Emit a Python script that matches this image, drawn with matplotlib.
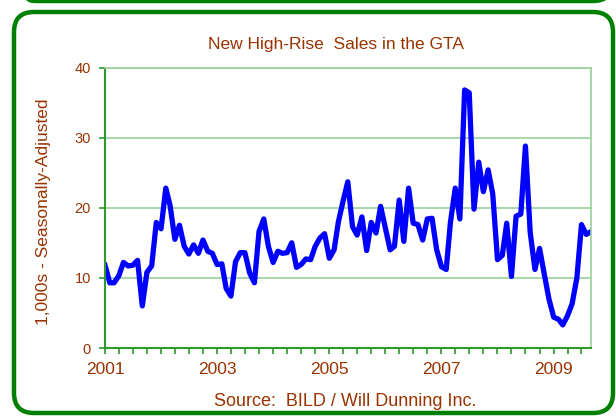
import numpy as np
import pandas as pd
import matplotlib
matplotlib.use('Agg')
import matplotlib.pyplot as plt
import matplotlib.dates as mdates
from matplotlib.patches import FancyBboxPatch
from matplotlib.transforms import IdentityTransform

# Dane: miesięczna sprzedaż (tys., wyrównana sezonowo), od 01.2001
months = pd.date_range('2001-01-01', periods=105, freq='MS')
sales = [
    11.8, 9.3, 9.3, 10.3, 12.2, 11.7, 11.8, 12.5, 6.0, 10.8, 11.7, 17.9,
    17.0, 22.8, 20.3, 15.5, 17.5, 14.5, 13.4, 14.7, 13.5, 15.4, 13.8, 13.5,
    11.9, 12.0, 8.5, 7.4, 12.3, 13.6, 13.6, 10.7, 9.3, 16.6, 18.4, 14.5,
    12.2, 13.8, 13.5, 13.6, 15.0, 11.5, 11.9, 12.7, 12.6, 14.5, 15.7, 16.3,
    12.8, 14.0, 18.0, 21.0, 23.7, 17.3, 16.1, 18.7, 13.9, 17.9, 16.4, 20.2,
    17.1, 14.0, 14.5, 21.1, 15.2, 22.8, 17.8, 17.6, 15.4, 18.4, 18.5, 14.0,
    11.6, 11.2, 18.0, 22.8, 18.4, 36.8, 36.4, 19.8, 26.5, 22.3, 25.4, 22.0,
    12.6, 13.2, 17.8, 10.2, 18.8, 19.1, 28.8, 16.5, 11.2, 14.2, 10.5, 7.0,
    4.4, 4.1, 3.3, 4.6, 6.3, 10.0, 17.6, 16.2, 16.6,
]
year_labels = ['2001', '2003', '2005', '2007', '2009']

TXT = '#993300'
GRID = '#99d199'
AXG = '#2e9a2e'
FRAME = '#008000'
FONT = 'Liberation Sans'

fig = plt.figure(figsize=(6.16, 4.17), dpi=100)
fig.patch.set_facecolor('white')

# ramki (zaokrąglone, zielone)
W, H = 616, 417
fig.patches.append(FancyBboxPatch((14, 4), 599, 401, boxstyle='round,pad=0,rounding_size=20',
                                  transform=IdentityTransform(), fill=False,
                                  edgecolor=FRAME, linewidth=3.2, figure=fig))
fig.patches.append(FancyBboxPatch((14, 416), 599, 100, boxstyle='round,pad=0,rounding_size=20',
                                  transform=IdentityTransform(), fill=False,
                                  edgecolor=FRAME, linewidth=3.2, figure=fig))

ax = fig.add_axes([105 / W, 69 / H, 486 / W, 280.5 / H])
ax.plot(months, sales, color='#0000ff', linewidth=3.8, solid_joinstyle='round')

ax.set_ylim(0, 40)
ax.set_xlim(months[0], months[-1])
ax.set_yticks([0, 10, 20, 30, 40])
ax.yaxis.grid(True, color=GRID, linewidth=1.2)
ax.set_axisbelow(True)

year_pos = [mdates.date2num(pd.Timestamp(y + '-01-01')) for y in year_labels]
ax.set_xticks(year_pos)
ax.set_xticklabels(year_labels)
ax.xaxis.set_minor_locator(mdates.MonthLocator(bymonth=[1, 4, 7, 10]))
ax.tick_params(axis='x', which='both', direction='out', length=4, width=1.2,
               color=AXG, labelsize=12.5, labelcolor=TXT, pad=6)
ax.tick_params(axis='y', direction='out', length=4, width=1.2, color=AXG,
               labelsize=10.5, labelcolor=TXT, pad=6)
for lbl in ax.get_xticklabels() + ax.get_yticklabels():
    lbl.set_family(FONT)

for side in ['top', 'right']:
    ax.spines[side].set_color(GRID)
    ax.spines[side].set_linewidth(1.2)
for side in ['left', 'bottom']:
    ax.spines[side].set_color(AXG)
    ax.spines[side].set_linewidth(1.5)

fig.text(336 / W, 1 - 44 / H, 'New High-Rise  Sales in the GTA', ha='center', va='center',
         color=TXT, fontsize=12.5, family=FONT)
fig.text(44 / W, 1 - 212 / H, '1,000s - Seasonally-Adjusted', rotation=90, ha='center',
         va='center', color=TXT, fontsize=12.5, family=FONT)
fig.text(345 / W, 1 - 402 / H, 'Source:  BILD / Will Dunning Inc.', ha='center', va='center',
         color=TXT, fontsize=13, family=FONT)

fig.savefig('out.png', dpi=100, facecolor='white')
